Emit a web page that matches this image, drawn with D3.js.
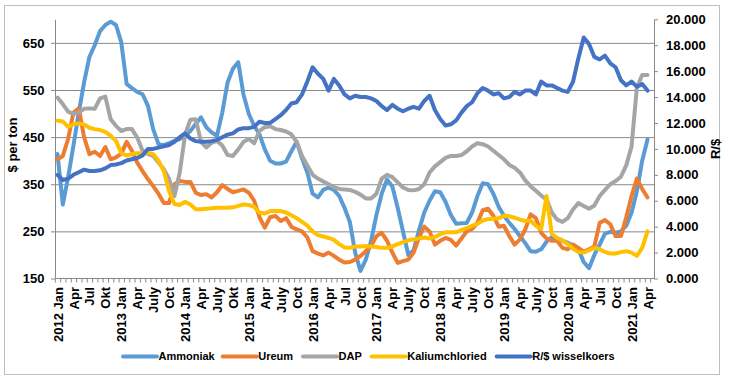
<!DOCTYPE html>
<html><head><meta charset="utf-8">
<script src="https://cdn.jsdelivr.net/npm/d3@7"></script>
<style>body{margin:0;background:#fff;} svg{display:block;font-family:Arial,"Liberation Sans",sans-serif;}</style>
</head><body><svg id="c" width="730" height="380"></svg>
<script>
// Categories: months Jan 2012 .. Apr 2021
const categories = d3.range(112).map(i => `${2012 + Math.floor(i / 12)}-${String(i % 12 + 1).padStart(2, '0')}`);
const tickLabels = ["2012 Jan","Apr","Jul","Okt","2013 Jan","Apr","July","Oct","2014 Jan","Apr","July","Okt",
  "2015 Jan","Apr","July","Oct","2016 Jan","Apr","Jul","Oct","2017 Jan","Apr","July","Oct",
  "2018 Jan","Apr","July","Oct","2019 Jan","Apr","July","Oct","2020 Jan","Apr","Jul","Oct","2021 Jan","Apr"];
const leftTicks = [150,250,350,450,550,650];
const rightTicks = [0,2,4,6,8,10,12,14,16,18,20];
const seriesNames = ["Ammoniak","Ureum","DAP","Kaliumchloried","R/$ wisselkoers"];
const seriesColors = ["#5B9BD5","#ED7D31","#A5A5A5","#FFC000","#4472C4"];

const ammoniak = [414,307,365,432,502,566,620,645,675,688,695,688,651,563,554,546,541,517,467,435,433,437,442,446,
  453,463,478,492,471,460,453,502,566,595,609,540,499,474,456,424,400,394,394,398,420,440,405,375,
  330,322,338,343,338,325,300,270,205,166,190,230,285,330,360,345,300,250,200,210,252,290,315,335,
  333,313,285,266,267,268,290,325,352,350,330,302,283,268,255,240,225,208,207,212,228,238,235,230,
  226,220,212,185,172,200,222,245,249,247,250,262,290,335,400,445];
const ureum = [403,410,446,502,511,450,414,419,410,429,403,407,415,440,421,396,378,361,346,330,310,310,350,357,
  355,355,332,327,329,322,333,348,340,333,336,339,332,315,280,258,280,283,272,278,260,254,250,237,
  208,203,199,205,198,190,184,185,190,198,208,219,240,247,230,205,183,187,190,205,237,260,250,222,
  230,236,232,220,235,250,255,268,295,298,283,260,262,240,222,233,254,286,278,247,235,230,230,215,
  212,222,215,207,212,218,268,274,265,240,240,280,325,362,340,322];
const dap = [534,520,504,499,502,510,511,510,532,536,488,474,463,467,467,449,421,414,410,396,382,361,325,375,
  455,487,488,440,428,438,442,432,412,410,424,440,446,437,463,471,473,467,465,462,456,440,410,390,
  370,362,356,350,344,340,339,338,334,328,320,320,330,362,370,365,354,343,338,337,340,350,375,388,
  397,406,410,410,412,420,430,437,435,430,421,412,403,391,385,375,358,346,336,326,318,290,275,270,
  278,297,310,304,298,305,325,338,350,357,366,390,430,555,582,582];
const kalium = [485,483,472,478,479,477,470,467,465,461,453,442,416,411,414,416,416,417,414,400,378,335,308,306,
  313,307,297,297,298,299,300,300,300,301,304,307,306,302,290,288,293,293,293,290,284,278,270,262,
  250,242,239,236,232,223,216,215,218,218,219,218,217,215,215,218,223,227,231,233,235,237,235,238,
  244,248,248,248,253,257,262,266,273,276,277,278,283,282,279,275,272,273,262,255,325,245,236,231,
  223,213,206,205,210,215,212,206,203,203,206,208,205,198,215,250];
const randDollar = [8.0,7.6,7.7,8.0,8.2,8.4,8.3,8.3,8.35,8.5,8.75,8.8,8.9,9.1,9.2,9.3,9.5,10.0,10.0,10.1,10.2,10.3,10.55,10.9,
  11.2,10.8,10.6,10.55,10.55,10.6,10.7,10.9,11.1,11.2,11.5,11.6,11.6,11.7,12.1,12.0,12.0,12.3,12.6,13.0,13.5,13.6,14.2,15.2,
  16.3,15.8,15.4,14.5,15.4,14.9,14.2,13.9,14.1,14.0,14.0,13.9,13.7,13.3,13.0,13.4,13.1,12.9,13.1,13.25,13.1,13.7,14.1,13.0,
  12.3,11.8,11.9,12.2,12.8,13.3,13.6,14.3,14.7,14.5,14.2,14.3,13.9,14.0,14.4,14.2,14.5,14.5,14.2,15.2,14.9,14.9,14.7,14.5,
  14.4,15.2,17.0,18.6,18.1,17.1,16.9,17.2,16.6,16.3,15.3,14.9,15.2,14.8,15.0,14.5];

const svg = d3.select('#c');
const axisColor = '#898989';
svg.append('rect').attr('x',4.5).attr('y',5.5).attr('width',715).attr('height',369)
  .attr('fill','#fff').attr('stroke','#BFBFBF');

const L = 55, R = 654, T = 19.3, B = 278.5;
const x = d3.scalePoint().domain(categories).range([57.5, 647.5]);
const step = x.step();
const xm = d3.scaleLinear().domain([0, categories.length - 1]).range([57.5, 647.5]);
const yL = d3.scaleLinear().domain([150, 700]).range([B, T]);
const yR = d3.scaleLinear().domain([0, 20]).range([B, T]);

// gridlines
const grid = svg.append('g').attr('transform',`translate(${L},0)`)
  .call(d3.axisLeft(yL).tickValues(leftTicks.slice(1)).tickSize(-(R-L)).tickFormat(''));
grid.select('.domain').remove();
grid.selectAll('line').attr('stroke',axisColor).attr('stroke-width',1);

// left axis
const gl = svg.append('g').attr('transform',`translate(${L},0)`)
  .call(d3.axisLeft(yL).tickValues(leftTicks).tickSize(4).tickSizeOuter(0).tickPadding(6.5));
gl.select('.domain').attr('stroke',axisColor);
gl.selectAll('line').attr('stroke',axisColor);
gl.selectAll('text').attr('font-size',13).attr('font-weight','bold').attr('fill','#000').attr('font-family','Arial, Liberation Sans, sans-serif');

// right axis
const gr = svg.append('g').attr('transform',`translate(${R},0)`)
  .call(d3.axisRight(yR).tickValues(rightTicks).tickSize(4).tickSizeOuter(0).tickPadding(8).tickFormat(d3.format('.3f')));
gr.select('.domain').attr('stroke',axisColor);
gr.selectAll('line').attr('stroke',axisColor);
gr.selectAll('text').attr('font-size',13).attr('font-weight','bold').attr('fill','#000').attr('font-family','Arial, Liberation Sans, sans-serif');

// bottom axis: baseline + month ticks
svg.append('line').attr('x1',L).attr('x2',R).attr('y1',B).attr('y2',B).attr('stroke',axisColor);
const gm = svg.append('g').attr('transform',`translate(0,${B})`)
  .call(d3.axisBottom(xm).tickValues(d3.range(-0.5, categories.length, 1)).tickSize(4).tickFormat(''));
gm.select('.domain').remove();
gm.selectAll('line').attr('stroke',axisColor);
const labelCats = categories.filter((d,i) => i % 3 === 0);
const gb = svg.append('g').attr('transform',`translate(0,${B})`)
  .call(d3.axisBottom(x).tickValues(labelCats).tickSize(0).tickFormat((d,i) => tickLabels[i]));
gb.select('.domain').remove();
gb.selectAll('text').attr('font-size',13).attr('font-weight','bold').attr('fill','#000')
  .attr('font-family','Arial, Liberation Sans, sans-serif')
  .attr('transform','rotate(-90)').attr('text-anchor','end').attr('x',-8.5).attr('y',0).attr('dy','0.35em');

// axis titles
svg.append('text').attr('transform','translate(17,145) rotate(-90)').attr('text-anchor','middle')
  .attr('font-size',13).attr('font-weight','bold').text('$ per ton');
svg.append('text').attr('transform','translate(720,149) rotate(-90)').attr('text-anchor','middle')
  .attr('font-size',13).attr('font-weight','bold').text('R/$');

// series
const leftSeries = [ammoniak, ureum, dap, kalium];
const lineL = d3.line().x((d,i) => x(categories[i])).y(d => yL(d));
const lineR = d3.line().x((d,i) => x(categories[i])).y(d => yR(d));
leftSeries.forEach((s, k) => {
  svg.append('path').datum(s).attr('d', lineL).attr('fill','none')
    .attr('stroke', seriesColors[k]).attr('stroke-width',4).attr('stroke-linejoin','round').attr('stroke-linecap','round');
});
svg.append('path').datum(randDollar).attr('d', lineR).attr('fill','none')
  .attr('stroke', seriesColors[4]).attr('stroke-width',4).attr('stroke-linejoin','round').attr('stroke-linecap','round');

// legend
const legendX = [123, 222.7, 303, 371.7, 496.7];
const lg = svg.append('g');
seriesNames.forEach((n, k) => {
  lg.append('line').attr('x1',legendX[k]).attr('x2',legendX[k]+34).attr('y1',356.5).attr('y2',356.5)
    .attr('stroke',seriesColors[k]).attr('stroke-width',4).attr('stroke-linecap','round');
  lg.append('text').attr('x',legendX[k]+35.5).attr('y',356.5).attr('dy','0.35em')
    .attr('font-size',11).attr('font-weight','bold').text(n);
});
</script></body></html>
